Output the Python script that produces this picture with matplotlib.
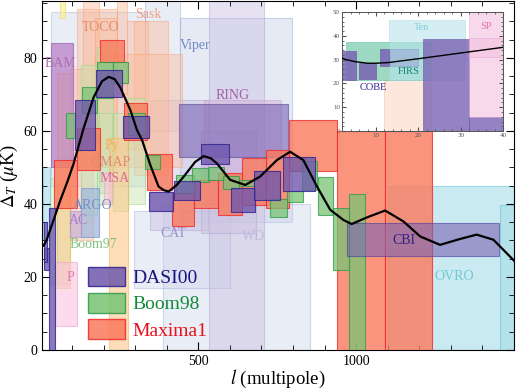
import matplotlib
matplotlib.use("Agg")
import matplotlib.pyplot as plt
from matplotlib.patches import Patch
from matplotlib.ticker import MultipleLocator

plt.rcParams["font.family"] = ["Liberation Serif", "DejaVu Serif"]
plt.rcParams["mathtext.fontset"] = "stix"

# Boxes: (l_lo, l_hi, dT_lo, dT_hi)
python_boxes = [(35, 330, 45, 92.5), (330, 441, 60, 96)]
viper_boxes = [(441, 797, 35, 91)]
cat_boxes = [(388, 855, 0, 40), (295, 601, 17, 38)]
wd_boxes = [(533, 709, 0, 100), (346, 532, 33, 68.6), (510, 684, 32, 60)]
ring_boxes = [(519, 762, 40, 68.6)]
sask_boxes = [(117, 244, 50, 93.5), (136, 187, 60, 100), (174, 244, 55, 91),
              (275, 342, 55, 90), (295, 405, 48, 90), (174, 450, 50, 81),
              (95, 168, 30, 77), (244, 275, 70, 100)]
boom97_boxes = [(130, 180, 37, 78), (180, 231, 40, 83), (231, 279, 38, 65),
                (279, 330, 40, 69), (30, 95, 18, 47), (184, 228, 43, 65)]
pyth_boxes = [(54, 95, 17, 76), (218, 279, 0, 58)]
msam_boxes = [(47, 117, 6.5, 24), (200, 228, 40, 48.5)]
bam_boxes = [(32, 104, 50, 84)]
ten_main_boxes = [(8, 30, 30, 50)]
argo_boxes = [(127, 187, 31, 44.4)]
iac_boxes = [(95, 127, 31, 38)]
yellow_boxes = [(63, 79, 91, 100)]
ovro_boxes = [(1101, 1510, 0, 45), (1456, 1510, 0, 39.7)]
cobra_boxes = [(440, 785, 52.9, 67.3)]

maxima_boxes = [(42, 116, 39, 52), (116, 190, 49.3, 60.8), (190, 266, 79, 85),
                (266, 339, 57.4, 67.6), (339, 418, 43.8, 53.6), (418, 488, 34, 43),
                (488, 563, 39, 46.5), (563, 640, 37, 48.4), (640, 716, 39.7, 52.6),
                (716, 788, 39, 54.7), (788, 940, 49, 63), (940, 1090, 0, 60),
                (1090, 1240, 0, 60)]
boom98_boxes = [(80, 108, 58, 65), (133, 180, 65, 72), (180, 231, 69, 78.8),
                (231, 279, 73, 79), (279, 332, 59, 65), (332, 380, 49.5, 53.4),
                (430, 488, 43, 47.8), (480, 533, 46, 49.8), (531, 582, 46.5, 50),
                (579, 630, 44, 47.6), (630, 677, 44.8, 46.6), (728, 782, 36.5, 41.3),
                (782, 832, 40.6, 43.6), (829, 877, 43.8, 51.8), (880, 927, 37, 47.4),
                (927, 978, 22, 39), (978, 1029, 0, 42.8)]
dasi_boxes = [(10, 26, 22, 28), (10, 21, 24, 35), (26, 45, 0, 39),
              (108, 174, 54.8, 68.4), (177, 259, 69.3, 76.8), (263, 345, 58, 64),
              (345, 421, 38.2, 43.3), (422, 504, 41, 46.3), (510, 598, 51, 56.4),
              (604, 680, 37.7, 44.4), (678, 760, 41, 48.9), (768, 869, 43.6, 52.9)]
cbi_boxes = [(971, 1453, 25.8, 34.8)]

# model curve
curve_l = [5, 10, 20, 40, 63, 85, 105, 137, 169, 195, 216, 235, 253, 285, 306,
           322, 348, 374, 390, 406, 432, 454, 490, 517, 540, 559, 601, 649, 696,
           749, 791, 833, 876, 918, 960, 986, 1034, 1092, 1150, 1203, 1266, 1329,
           1382, 1435, 1500]
curve_dT = [29, 28.5, 30.2, 35.2, 41, 46, 51, 60.8, 69.3, 73.6, 74.8, 74.2, 71.9,
            65.7, 60.2, 57.5, 50.7, 44.8, 43.8, 43.4, 45.2, 47.5, 51.5, 53.1, 52.5,
            51.1, 46.6, 45.2, 47.5, 52, 54.3, 52, 44.8, 38.4, 35.6, 34.5, 36.3,
            38.2, 35.2, 31.1, 28.8, 30.4, 31.6, 30.2, 24.5]

# inset (low l)
firs_boxes = [(3, 23, 21.5, 37.4)]
tenerife_boxes = [(13, 31, 21.5, 46.8)]
sp_boxes = [(32, 41, 6, 50), (32, 41, 31.3, 39)]
cobe_boxes = [(2, 5.2, 21.5, 33.7), (6, 10.1, 21.9, 28.5), (11, 13, 27.5, 34.6)]
inset_purple_boxes = [(21, 32, 0, 38.7), (32, 41, 0, 6)]
inset_salmon_boxes = [(12, 23, 0, 21.5)]
inset_slate_boxes = [(13.3, 20, 27.5, 34.4)]
inset_curve_l = [2, 3, 5, 8, 10, 13, 16, 20, 25, 30, 35, 40]
inset_curve_dT = [30.6, 30, 29.2, 28.5, 28.5, 28.8, 29.5, 30.4, 31.6, 32.8, 34, 35.2]

labels = ["TOCO", "Sask", "BAM", "Viper", "RING", "Py", "QMAP", "MSA", "ARGO",
          "AC", "Boom97", "P", "CAT", "WD", "CBI", "OVRO"]
label_l = [190, 342, 63, 490, 608, 228, 222, 234, 165, 120, 167, 95, 421, 674, 1150, 1310]
label_dT = [88.4, 92, 78.6, 83.5, 69.8, 56, 51.5, 47, 39.6, 35.6, 29, 19.8, 32, 31, 30, 20]
label_colors = ["#e88a70", "#f0a080", "#b070b0", "#7088c0", "#a060a8", "#f0b060",
                "#e08878", "#e06890", "#7090c8", "#a880c8", "#80c080", "#e080b0",
                "#9890c8", "#c0b8d8", "#302080", "#70c8d8"]

inset_labels = ["Ten", "SP", "FIRS", "COBE"]
inset_label_l = [20.8, 36, 17.7, 9.3]
inset_label_dT = [43.5, 44, 25, 18.4]
inset_label_colors = ["#80d0dc", "#e070b0", "#108070", "#302090"]


def draw_boxes(ax, boxes, face, edge, alpha, lw=0.8, z=1):
    lo = [b[0] for b in boxes]
    w = [b[1] - b[0] for b in boxes]
    bot = [b[2] for b in boxes]
    h = [b[3] - b[2] for b in boxes]
    ax.bar(lo, h, width=w, bottom=bot, align="edge", color=face, alpha=alpha,
           edgecolor=edge, linewidth=lw, zorder=z)


fig = plt.figure(figsize=(5.16, 3.9), dpi=100)
ax = fig.add_axes([0.0814, 0.1026, 0.9146, 0.894])

draw_boxes(ax, python_boxes, "#c9d2ea", "#94a8d4", 0.4)
draw_boxes(ax, viper_boxes, "#c9d2ea", "#94a8d4", 0.45)
draw_boxes(ax, cat_boxes, "#c9d2ea", "#94a8d4", 0.4)
draw_boxes(ax, wd_boxes, "#cbc0e0", "#b0a0d0", 0.45)
draw_boxes(ax, ring_boxes, "#d4a8d8", "#c090c8", 0.4)
draw_boxes(ax, sask_boxes, "#fbbc9c", "#f7a07a", 0.45)
draw_boxes(ax, boom97_boxes, "#c8e6b4", "#9ad88a", 0.5)
draw_boxes(ax, pyth_boxes, "#fcc98a", "#f8b060", 0.6)
draw_boxes(ax, msam_boxes, "#f9c4e0", "#f0a0d0", 0.6)
draw_boxes(ax, bam_boxes, "#b77cc4", "#a060b0", 0.7)
draw_boxes(ax, ten_main_boxes, "#a8dce8", "#70c8d8", 0.6)
draw_boxes(ax, argo_boxes, "#9cb4dc", "#7898c8", 0.7)
draw_boxes(ax, iac_boxes, "#c0a8d8", "#a890c8", 0.6)
draw_boxes(ax, yellow_boxes, "#f8f0a0", "#f0e070", 0.7)
draw_boxes(ax, ovro_boxes, "#a8dce8", "#60c8d8", 0.6)
draw_boxes(ax, cobra_boxes, "#7a64b4", "#5a4a9a", 0.6, z=2)

draw_boxes(ax, maxima_boxes, "#fa7a5c", "#f02a2a", 0.8, z=3)
draw_boxes(ax, boom98_boxes, "#78c475", "#2e9a46", 0.75, z=4)
draw_boxes(ax, dasi_boxes, "#6f58ac", "#2e2090", 0.8, z=5)
draw_boxes(ax, cbi_boxes, "#7a64b4", "#4a3a9a", 0.6, z=5)

ax.plot(curve_l, curve_dT, color="black", lw=1.6, zorder=8)

for t, x, y, c in zip(labels, label_l, label_dT, label_colors):
    ax.text(x, y, t, color=c, fontsize=10, ha="center", va="center", zorder=7)

ax.set_xlim(5, 1500)
ax.set_ylim(0, 95.5)
ax.set_xticks([500, 1000])
ax.xaxis.set_minor_locator(MultipleLocator(100))
ax.yaxis.set_major_locator(MultipleLocator(20))
ax.yaxis.set_minor_locator(MultipleLocator(5))
ax.tick_params(which="both", direction="in", top=True, right=True, labelsize=10)
ax.tick_params(which="major", length=6)
ax.tick_params(which="minor", length=3.5)
ax.set_xlabel(r"$l$ (multipole)", fontsize=13.5, labelpad=0)
ax.set_ylabel(r"$\Delta_T$ ($\mu$K)", fontsize=13.5, labelpad=2)

handles = [Patch(facecolor="#6f58ac", edgecolor="#2e2090", alpha=0.85),
           Patch(facecolor="#78c475", edgecolor="#2e9a46", alpha=0.85),
           Patch(facecolor="#fa7a5c", edgecolor="#f02a2a", alpha=0.85)]
leg = ax.legend(handles, ["DASI00", "Boom98", "Maxima1"], loc="lower left",
                bbox_to_anchor=(0.0975, 0.03), frameon=False, fontsize=14,
                handlelength=1.9, handleheight=1.15, handletextpad=0.4,
                labelspacing=0.3, borderpad=0, borderaxespad=0,
                labelcolor=["#1a1480", "#138a3a", "#e8101a"])
leg.set_zorder(9)

# inset
ins = fig.add_axes([0.663, 0.664, 0.312, 0.305])
ins.set_facecolor("white")
draw_boxes(ins, inset_salmon_boxes, "#fde0d4", "#f8c0b0", 0.8, lw=0.5)
draw_boxes(ins, firs_boxes, "#5cc09c", "#40b090", 0.6, lw=0.5)
draw_boxes(ins, tenerife_boxes, "#b8e4ec", "#a0d8e4", 0.6, lw=0.5)
draw_boxes(ins, inset_purple_boxes, "#7a64b4", "#6a54a4", 0.8, lw=0.5)
draw_boxes(ins, sp_boxes, "#f4c0e0", "#eaa0d0", 0.6, lw=0.5)
draw_boxes(ins, inset_slate_boxes, "#a0b0d8", "#8898c8", 0.7, lw=0.5)
draw_boxes(ins, cobe_boxes, "#7a64b4", "#6a54a4", 0.85, lw=0.5)
ins.plot(inset_curve_l, inset_curve_dT, color="black", lw=1.0, zorder=8)
for t, x, y, c in zip(inset_labels, inset_label_l, inset_label_dT, inset_label_colors):
    ins.text(x, y, t, color=c, fontsize=7.5, ha="center", va="center", zorder=7)
ins.set_xlim(2, 40)
ins.set_ylim(0, 50)
ins.xaxis.set_major_locator(MultipleLocator(10))
ins.xaxis.set_minor_locator(MultipleLocator(2))
ins.yaxis.set_major_locator(MultipleLocator(10))
ins.yaxis.set_minor_locator(MultipleLocator(2))
ins.tick_params(which="both", direction="in", top=True, right=True,
                labelsize=5, colors="#555555", pad=1.5)
ins.tick_params(which="major", length=3)
ins.tick_params(which="minor", length=1.5)
for s in ins.spines.values():
    s.set_color("#555555")
    s.set_linewidth(0.7)

fig.savefig("out.png", dpi=100)
